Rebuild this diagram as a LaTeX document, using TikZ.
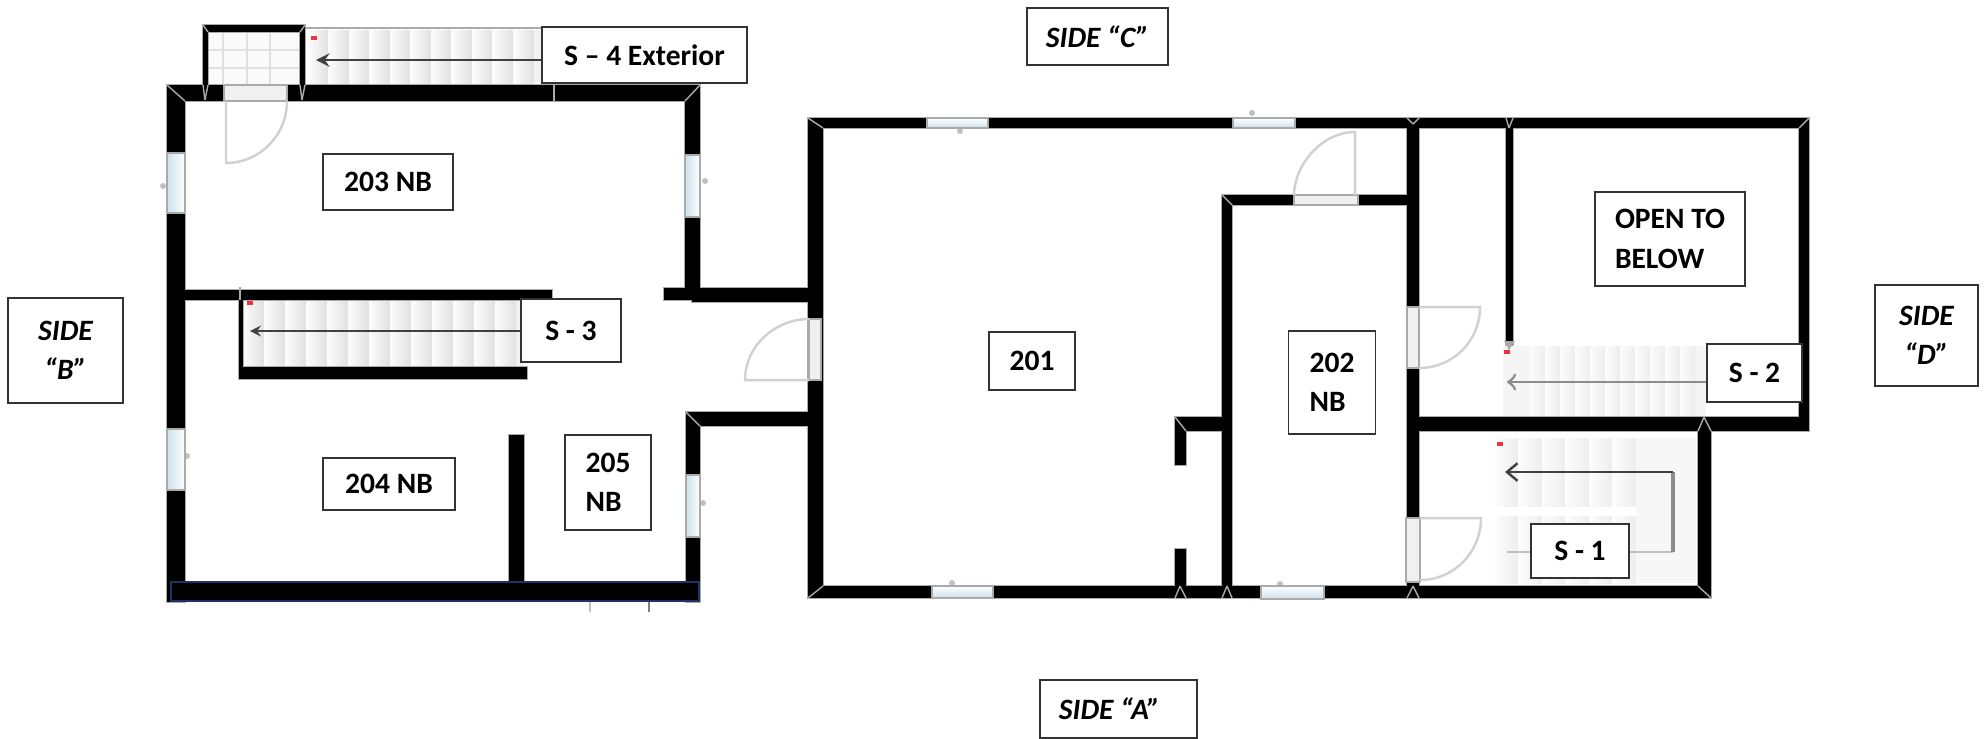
\documentclass[tikz,border=0pt]{standalone}
\usepackage{fontspec}
\setmainfont{Carlito}
\usepackage{tikz}
\usetikzlibrary{arrows,arrows.meta,positioning}
\usepackage{xcolor}
\definecolor{fpglass}{RGB}{205,224,234}
\definecolor{fpdoor}{RGB}{240,240,240}
\definecolor{fpedge}{RGB}{170,170,170}
\definecolor{fpnavy}{RGB}{30,50,100}
\definecolor{fpred}{RGB}{240,50,60}
\tikzstyle{wall} = [fill=black]
\tikzstyle{walledge} = [draw=fpedge,line width=0.8pt]
\tikzstyle{mitre} = [draw=fpedge,line width=0.4pt]
\tikzstyle{windowside} = [left color=fpglass,right color=white,draw=fpedge,line width=0.4pt]
\tikzstyle{windowflat} = [top color=white,bottom color=fpglass,draw=fpedge,line width=0.4pt]
\tikzstyle{doorgap} = [fill=fpdoor,draw=fpedge,line width=0.4pt]
\tikzstyle{doorswing} = [draw=black!18,line width=0.7pt]
\tikzstyle{tread} = [left color=black!1,right color=black!12]
\tikzstyle{softtread} = [left color=black!1,right color=black!7]
\tikzstyle{stairarrow} = [draw=black!75,line width=0.6pt,->,>=stealth]
\tikzstyle{labelbox} = [draw=black!80,fill=white,line width=0.5pt,inner sep=0pt,align=left,font=\bfseries\fontsize{8.4}{11.2}\selectfont]
\tikzstyle{sidebox} = [labelbox,align=center,font=\bfseries\itshape\fontsize{8.4}{11.2}\selectfont]
\newcommand{\wallrects}{167/85/700/101, 167/85/185/602, 685/85/700/300, 167/290/552/300,
  664/288/692/300, 692/288/823/302, 686/412/700/602, 686/412/823/426,
  239/300/243/379, 239/367/527/379, 509/435/524/585, 203/25/305/32, 203/25/208/85, 300/25/305/85,
  808/118/1809/128, 808/118/823/598, 808/586/1711/598, 1407/118/1419/598, 1506/128/1513/345,
  1799/118/1809/431, 1407/417/1809/431, 1698/431/1711/598, 1222/195/1232/598, 1222/195/1407/205,
  1175/417/1226/431, 1175/431/1186/465, 1175/549/1186/586}
\newcommand{\treadrun}[7]{\foreach \x in {#2,#3,...,#4} \shade[#1] (\x,#6) rectangle ({\x+#5},#7);}

\begin{document}
\begin{tikzpicture}[x=0.01cm,y=-0.01cm]
\useasboundingbox (0,0) rectangle (1986,738);

% Stairs
\fill[black!5] (308,30) rectangle (545,83);
\treadrun{tread}{308}{328.5}{520}{20.5}{30}{83}
\draw[fpedge,line width=0.6pt] (305,28) -- (545,28);
\fill[black!5] (243,301) rectangle (523,367);
\treadrun{tread}{243}{264}{500}{21}{301}{367}
\fill[black!4] (1503,346) rectangle (1706,417);
\treadrun{softtread}{1530}{1545}{1690}{15}{346}{417}
\fill[black!3] (1495,438) rectangle (1696,583);
\treadrun{softtread}{1495}{1518.5}{1614}{23.5}{438}{583}
\fill[white] (1495,507) rectangle (1637,516);

% Landing grid
\fill[black!2] (208,32) rectangle (300,85);
\foreach \x in {223,247,270} \draw[black!12] (\x,32) -- (\x,85);
\foreach \y in {50,68} \draw[black!12] (208,\y) -- (300,\y);

% Window handles
\foreach \x/\y in {163/186, 705/181, 187/456, 703/503, 960/131, 1252/113, 952/583, 1280/584}
  \fill[black!25] (\x,\y) circle (3);

% Walls
\foreach \xa/\ya/\xb/\yb in \wallrects \draw[walledge] (\xa,\ya) rectangle (\xb,\yb);
\foreach \xa/\ya/\xb/\yb in \wallrects \fill[wall] (\xa,\ya) rectangle (\xb,\yb);
\draw[wall,draw=fpnavy,line width=0.7pt] (171,582) rectangle (699,601);
\fill[fpedge] (1504,341) -- (1515,341) -- (1509,350) -- cycle;

% Corner joints
\foreach \xa/\ya/\xb/\yb in {167/85/185/101, 700/85/685/101, 808/118/823/128, 1809/118/1799/128,
  1222/195/1232/205, 686/412/700/426, 1711/598/1698/586, 808/598/823/586, 203/25/208/32, 305/25/300/32,
  1175/417/1186/431}
  \draw[mitre] (\xa,\ya) -- (\xb,\yb);
\foreach \xa/\ya/\xb/\yb in {203/85/205/100, 208/85/205/100, 300/85/302/100, 305/85/302/100,
  1407/118/1413/124, 1419/118/1413/124, 1506/118/1509/128, 1513/118/1509/128,
  1413/586/1407/598, 1413/586/1419/598, 1227/586/1222/598, 1227/586/1232/598, 1180/586/1175/598, 1180/586/1186/598,
  554/85/554/101, 240/287/240/300, 1704/417/1698/431, 1704/417/1711/431}
  \draw[mitre] (\xa,\ya) -- (\xb,\yb);

% Windows
\foreach \xa/\ya/\xb/\yb in {167/153/185/213, 685/155/700/217, 167/429/185/490, 686/475/700/537}
  \draw[windowside] (\xa,\ya) rectangle (\xb,\yb);
\foreach \xa/\ya/\xb/\yb in {927/118/988/128, 1233/118/1295/128, 932/586/993/598, 1261/586/1324/599}
  \draw[windowflat] (\xa,\ya) rectangle (\xb,\yb);

% Door gaps
\foreach \xa/\ya/\xb/\yb in {224/85/287/101, 809/319/821/380, 1294/195/1358/205, 1407/307/1419/368, 1406/518/1420/582}
  \draw[doorgap] (\xa,\ya) rectangle (\xb,\yb);

% Door swings
\draw[doorswing] (226,101) -- (226,163) .. controls (260,163) and (287,135) .. (287,101);
\draw[doorswing] (809,380) -- (745,380) .. controls (745,346) and (775,319) .. (809,319);
\draw[doorswing] (1355,195) -- (1355,132) .. controls (1321,132) and (1294,166) .. (1294,195);
\draw[doorswing] (1419,307) -- (1480,307) .. controls (1480,341) and (1453,368) .. (1419,368);
\draw[doorswing] (1420,518) -- (1481,518) .. controls (1481,552) and (1454,580) .. (1420,580);

% Small marks
\foreach \x/\y in {314/38, 250/303, 1507/352, 1500/444} \fill[fpred] (\x-3,\y-2) rectangle (\x+3,\y+2);
\draw[black!25,line width=0.6pt] (590,602) -- (590,612);
\draw[black!50,line width=0.6pt] (649,602) -- (649,612);

% Labels
\node[labelbox,minimum width=2.05cm,minimum height=0.56cm] (s4) at (644.5,55) {S -- 4 Exterior};
\node[labelbox,minimum width=1.30cm,minimum height=0.56cm] (r203) at (388,182) {203 NB};
\node[labelbox,minimum width=1.00cm,minimum height=0.63cm] (s3) at (571,330.5) {S - 3};
\node[labelbox,minimum width=1.32cm,minimum height=0.52cm] (r204) at (389,484) {204 NB};
\node[labelbox,minimum width=0.86cm,minimum height=0.95cm] (r205) at (608,482.5) {205\\NB};
\node[labelbox,minimum width=0.86cm,minimum height=0.58cm] (r201) at (1032,361) {201};
\node[labelbox,minimum width=0.87cm,minimum height=1.03cm] (r202) at (1332,382.5) {202\\NB};
\node[labelbox,minimum width=1.50cm,minimum height=0.94cm] (below) at (1670,239) {OPEN TO\\BELOW};
\node[labelbox,minimum width=0.95cm,minimum height=0.58cm] (s2) at (1754.5,373) {S - 2};
\node[labelbox,minimum width=0.98cm,minimum height=0.54cm] (s1) at (1580,551) {S - 1};
\node[sidebox,minimum width=1.41cm,minimum height=0.57cm] (sidec) at (1097.5,36.5) {SIDE “C”};
\node[sidebox,minimum width=1.57cm,minimum height=0.58cm] (sidea) at (1118.5,709) {SIDE “A”\hspace*{0.18cm}};
\node[sidebox,minimum width=1.15cm,minimum height=1.05cm] (sideb) at (65.5,350.5) {SIDE\\“B”};
\node[sidebox,minimum width=1.03cm,minimum height=1.01cm] (sided) at (1926.5,335.5) {SIDE\\“D”};

% Stair arrows
\coordinate (s4end) at (316,60);
\coordinate (s3end) at (250,331);
\coordinate (s2end) at (1507,382);
\coordinate (s1start) at (1507,552);
\coordinate (s1turn) at (1673,552);
\coordinate (s1top) at (1673,472);
\coordinate (s1end) at (1505,472);
\draw[stairarrow,line width=0.7pt] (s4.west |- s4end) -- (s4end);
\draw[stairarrow,line width=0.4pt] (s3.west |- s3end) -- (s3end);
\draw[stairarrow,draw=black!45,line width=0.8pt,>=to] (s2.west |- s2end) -- (s2end);
\draw[black!25,line width=0.4pt] (s1start) -- (s1.west |- s1start);
\draw[black!25,line width=0.4pt] (s1.east |- s1turn) -- (s1turn);
\draw[black!45,line width=0.9pt] (s1turn) -- (s1top);
\draw[draw=black!75,line width=0.7pt,-{Straight Barb[length=3pt,width=5pt]}] (s1top) -- (s1end);
\end{tikzpicture}
\end{document}
